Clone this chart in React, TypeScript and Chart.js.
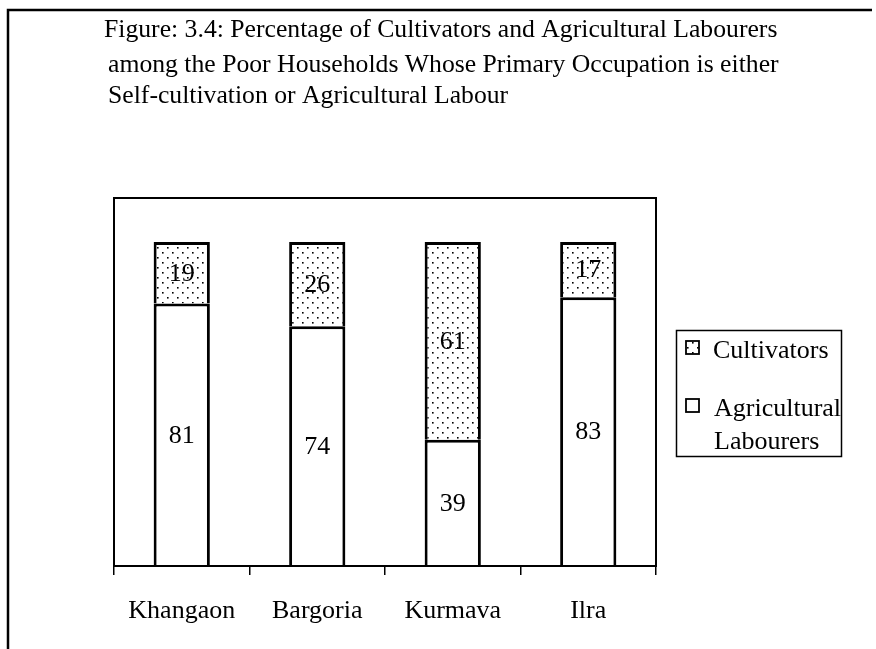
import React, { useEffect, useRef } from "react";
import { Chart, registerables } from "chart.js";

Chart.register(...registerables);

const categories = ["Khangaon", "Bargoria", "Kurmava", "Ilra"];
const cultivators = [19, 26, 61, 17];
const labourers = [81, 74, 39, 83];
const seriesNames = ["Agricultural Labourers", "Cultivators"];
const titleLines = [
  "Figure: 3.4: Percentage of Cultivators and Agricultural Labourers",
  "among the Poor Households Whose Primary Occupation is either",
  "Self-cultivation or Agricultural Labour",
];
const yMax = 113.6;

const FONT = "'Liberation Serif', 'DejaVu Serif', serif";

function makeDots(): CanvasPattern | string {
  const c = document.createElement("canvas");
  c.width = 10;
  c.height = 10;
  const g = c.getContext("2d");
  if (!g) return "#fff";
  g.fillStyle = "#fff";
  g.fillRect(0, 0, 10, 10);
  g.fillStyle = "#000";
  g.fillRect(2, 2, 1.6, 1.6);
  g.fillRect(7, 7, 1.6, 1.6);
  const p = g.createPattern(c, "repeat");
  return p || "#fff";
}

export default function App() {
  const ref = useRef<HTMLCanvasElement | null>(null);

  useEffect(() => {
    document.body.style.margin = "0";
    const canvas = ref.current;
    if (!canvas) return;
    const dots = makeDots();

    const decor = {
      id: "decor",
      afterDraw(chart: any) {
        const ctx = chart.ctx as CanvasRenderingContext2D;
        const ca = chart.chartArea;
        ctx.save();
        // outer frame
        ctx.strokeStyle = "#000";
        ctx.lineWidth = 2.5;
        ctx.beginPath();
        ctx.moveTo(8, 649);
        ctx.lineTo(8, 10);
        ctx.lineTo(872, 10);
        ctx.stroke();
        // plot box
        ctx.lineWidth = 2;
        ctx.strokeRect(ca.left, ca.top, ca.right - ca.left, ca.bottom - ca.top);
        // title
        ctx.fillStyle = "#000";
        ctx.textBaseline = "middle";
        ctx.textAlign = "left";
        ctx.font = `25.7px ${FONT}`;
        const tx = [104, 108, 108];
        const ty = [30, 65, 96];
        titleLines.forEach((t, i) => ctx.fillText(t, tx[i], ty[i]));
        // data labels
        ctx.textAlign = "center";
        ctx.font = `26px ${FONT}`;
        chart.data.datasets.forEach((ds: any, di: number) => {
          const meta = chart.getDatasetMeta(di);
          meta.data.forEach((el: any, i: number) => {
            const v = ds.data[i];
            ctx.fillText(String(v), el.x, (el.y + el.base) / 2 + 1);
          });
        });
        // legend
        const items = chart.data.datasets.slice().reverse();
        const rows = [351, 409];
        ctx.textAlign = "left";
        ctx.save();
        ctx.beginPath();
        ctx.rect(676, 330, 165, 127);
        ctx.clip();
        items.forEach((ds: any, i: number) => {
          const y = rows[i];
          ctx.fillStyle = ds.backgroundColor;
          ctx.fillRect(686, y - 10, 13, 13);
          ctx.lineWidth = 1.8;
          ctx.strokeStyle = "#000";
          ctx.strokeRect(686, y - 10, 13, 13);
          ctx.fillStyle = "#000";
          const words = String(ds.label).split(" ");
          if (words.length > 1) {
            ctx.fillText(words[0], 714, y);
            ctx.fillText(words.slice(1).join(" "), 714, y + 33);
          } else {
            ctx.fillText(ds.label, 713, y);
          }
        });
        ctx.restore();
        ctx.lineWidth = 1.5;
        ctx.strokeStyle = "#000";
        ctx.strokeRect(676.5, 330.5, 165, 126);
        ctx.restore();
      },
    };

    const chart = new Chart(canvas, {
      type: "bar",
      data: {
        labels: categories,
        datasets: [
          {
            label: seriesNames[0],
            data: labourers,
            backgroundColor: "#ffffff",
            borderColor: "#000",
            borderWidth: 3,
          },
          {
            label: seriesNames[1],
            data: cultivators,
            backgroundColor: dots as any,
            borderColor: "#000",
            borderWidth: 3,
          },
        ],
      },
      options: {
        responsive: false,
        animation: false,
        events: [],
        font: { family: FONT } as any,
        layout: { padding: { left: 114, right: 220, top: 198, bottom: 0 } },
        datasets: { bar: { categoryPercentage: 1, barPercentage: 0.415 } } as any,
        plugins: {
          legend: { display: false },
          title: { display: false },
          tooltip: { enabled: false },
        },
        scales: {
          x: {
            stacked: true,
            offset: true,
            grid: {
              display: true,
              drawOnChartArea: false,
              drawTicks: true,
              tickLength: 9,
              color: "#000",
              lineWidth: 1.5,
              offset: true,
            },
            border: { display: true, color: "#000", width: 2 },
            ticks: {
              color: "#000",
              font: { size: 26, family: FONT },
              padding: 21,
              maxRotation: 0,
            },
            afterFit: (s: any) => {
              s.height = 83;
            },
          },
          y: { stacked: true, display: false, min: 0, max: yMax },
        },
      },
      plugins: [decor],
    });
    return () => chart.destroy();
  }, []);

  return (
    <div style={{ width: 876, height: 649, background: "#fff" }}>
      <canvas ref={ref} width={876} height={649} style={{ display: "block" }} />
    </div>
  );
}
